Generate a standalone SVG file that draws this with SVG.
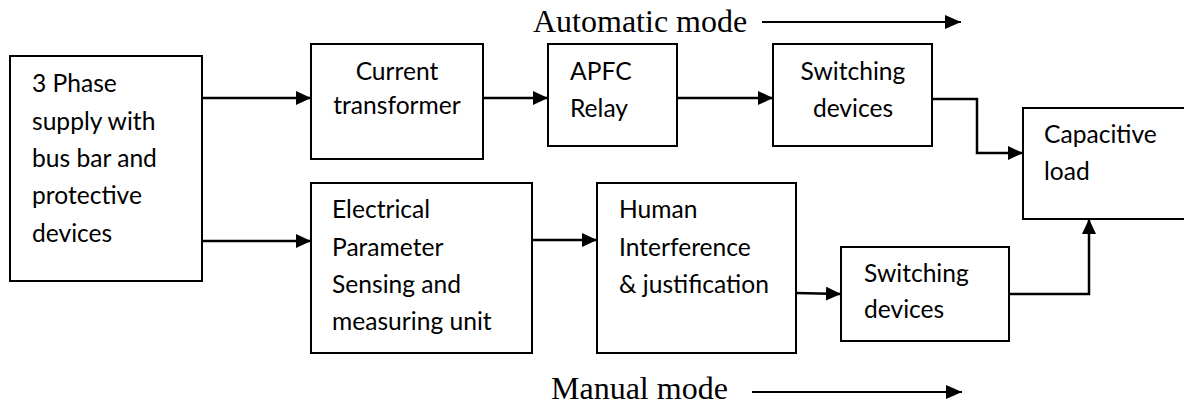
<svg xmlns="http://www.w3.org/2000/svg" width="1184" height="404" viewBox="0 0 1184 404">
  <style>
    .box { fill: #ffffff; stroke: #000000; stroke-width: 2; }
    .lbl { font-family: Lato, "Liberation Sans", sans-serif; font-size: 24.6px; fill: #000000; }
    .mid { text-anchor: middle; }
    .mode { font-family: "Liberation Serif", serif; font-size: 32px; fill: #000000; }
    .wire { fill: none; stroke: #000000; stroke-width: 2.5; marker-end: url(#ah); }
    .mline { fill: none; stroke: #000000; stroke-width: 2; marker-end: url(#ah2); }
  </style>
  <defs>
    <marker id="ah" markerUnits="userSpaceOnUse" markerWidth="16" markerHeight="16" refX="15" refY="7" orient="auto">
      <path d="M0,0 L15,7 L0,14 Z" fill="#000000"/>
    </marker>
    <marker id="ah2" markerUnits="userSpaceOnUse" markerWidth="18" markerHeight="16" refX="16" refY="7" orient="auto">
      <path d="M0,0 L16,7 L0,14 Z" fill="#000000"/>
    </marker>
  </defs>
  <rect width="1184" height="404" fill="#ffffff"/>

  <g id="supply">
    <rect class="box" x="10" y="56" width="192" height="225"/>
    <text class="lbl" x="32" y="92">3 Phase</text>
    <text class="lbl" x="32" y="130">supply with</text>
    <text class="lbl" x="32" y="167">bus bar and</text>
    <text class="lbl" x="32" y="204">protective</text>
    <text class="lbl" x="32" y="242">devices</text>
  </g>

  <g id="current-transformer">
    <rect class="box" x="311" y="44" width="172" height="115"/>
    <text class="lbl mid" x="397" y="80">Current</text>
    <text class="lbl mid" x="397" y="114">transformer</text>
  </g>

  <g id="apfc-relay">
    <rect class="box" x="548" y="44" width="129" height="102"/>
    <text class="lbl" x="570" y="80">APFC</text>
    <text class="lbl" x="570" y="117">Relay</text>
  </g>

  <g id="switching-auto">
    <rect class="box" x="773" y="44" width="159" height="102"/>
    <text class="lbl mid" x="853" y="80">Switching</text>
    <text class="lbl mid" x="853" y="117">devices</text>
  </g>

  <g id="capacitive-load">
    <rect class="box" x="1023" y="108" width="175" height="111"/>
    <text class="lbl" x="1044" y="143">Capacitive</text>
    <text class="lbl" x="1044" y="180">load</text>
  </g>

  <g id="sensing-unit">
    <rect class="box" x="311" y="183" width="221" height="170"/>
    <text class="lbl" x="332" y="218">Electrical</text>
    <text class="lbl" x="332" y="256">Parameter</text>
    <text class="lbl" x="332" y="293">Sensing and</text>
    <text class="lbl" x="332" y="330">measuring unit</text>
  </g>

  <g id="human-interference">
    <rect class="box" x="597" y="183" width="199" height="170"/>
    <text class="lbl" x="619" y="218">Human</text>
    <text class="lbl" x="619" y="256">Interference</text>
    <text class="lbl" x="619" y="293">&amp; justification</text>
  </g>

  <g id="switching-manual">
    <rect class="box" x="841" y="247" width="168" height="94"/>
    <text class="lbl" x="864" y="282">Switching</text>
    <text class="lbl" x="864" y="318">devices</text>
  </g>

  <g id="mode-labels">
    <text class="mode" x="533" y="32">Automatic mode</text>
    <text class="mode" x="551" y="399">Manual mode</text>
  </g>

  <g id="connectors">
    <path class="wire" d="M202,98 L311,98"/>
    <path class="wire" d="M202,241 L311,241"/>
    <path class="wire" d="M483,98 L548,98"/>
    <path class="wire" d="M677,98 L773,98"/>
    <path class="wire" d="M932,99 H977 V153 H1023"/>
    <path class="wire" d="M532,240 L597,240"/>
    <path class="wire" d="M796,293 L841,294"/>
    <path class="wire" d="M1009,294 H1089 V219"/>
    <path class="mline" d="M762,22 L961,22"/>
    <path class="mline" d="M752,392 L962,392"/>
  </g>
</svg>
